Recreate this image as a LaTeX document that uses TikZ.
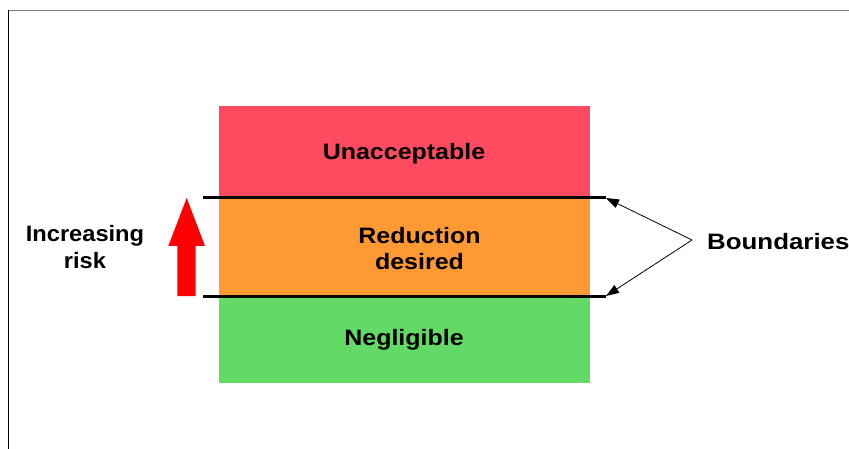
\documentclass[tikz,border=0pt]{standalone}
\usepackage{fontspec}
\newfontfamily\lblfont{Liberation Sans}[FakeStretch=1.12]
\newfontfamily\widelblfont{Liberation Sans}[FakeStretch=1.16]
\newfontfamily\narrowlblfont{Liberation Sans}[FakeStretch=1.06]
\usetikzlibrary{arrows.meta}
\definecolor{zonered}{RGB}{255,74,96}
\definecolor{zoneorange}{RGB}{255,153,51}
\definecolor{zonegreen}{RGB}{99,217,102}
\definecolor{framegray}{RGB}{128,128,128}
\tikzset{
  lbl/.style={font=\lblfont\bfseries\fontsize{22.3}{26.7}\selectfont, align=center, inner sep=0pt, anchor=base},
  boundary/.style={line width=3pt},
  pointer/.style={line width=0.8pt, -{Triangle[length=13pt,width=9pt]}},
}
\begin{document}
\begin{tikzpicture}[x=1pt,y=-1pt]
  \useasboundingbox (0,0) rectangle (849,449);
  % page frame
  \draw[framegray, line width=1.5pt] (8,10.5) -- (849,10.5);
  \draw[black, line width=1.3pt] (8.5,10) -- (8.5,449);
  % risk zones
  \fill[zonered]    (219,106) rectangle (590,198);
  \fill[zoneorange] (219,198) rectangle (590,296);
  \fill[zonegreen]  (219,296) rectangle (590,383);
  \node[lbl] (unacc) at (404,159.3) {Unacceptable};
  \node[lbl] (reduc) at (419.5,269.7) {Reduction\\desired};
  \node[lbl] (negl)  at (404,345.5) {Negligible};
  % boundaries between zones
  \coordinate (b1w) at (203,198);
  \coordinate (b1e) at (606,198);
  \coordinate (b2w) at (203,296);
  \coordinate (b2e) at (606,296);
  \draw[boundary] (b1w) -- (b1e);
  \draw[boundary] (b2w) -- (b2e);
  % increasing risk arrow
  \fill[red] (177.3,296) -- (195.7,296) -- (195.7,246) -- (205,246)
     -- (186.7,198) -- (168.3,246) -- (177.3,246) -- cycle;
  \node[lbl, font=\narrowlblfont\bfseries\fontsize{22.3}{26.7}\selectfont] (incr) at (85,268.5) {Increasing\\risk};
  % boundaries label and pointers
  \node[lbl, font=\widelblfont\bfseries\fontsize{22.3}{26.7}\selectfont, anchor=base west] (bnd) at (707,250) {Boundaries};
  \coordinate (fork) at (692,240);
  \draw[pointer] (fork) -- (b1e);
  \draw[pointer] (fork) -- (b2e);
\end{tikzpicture}
\end{document}
